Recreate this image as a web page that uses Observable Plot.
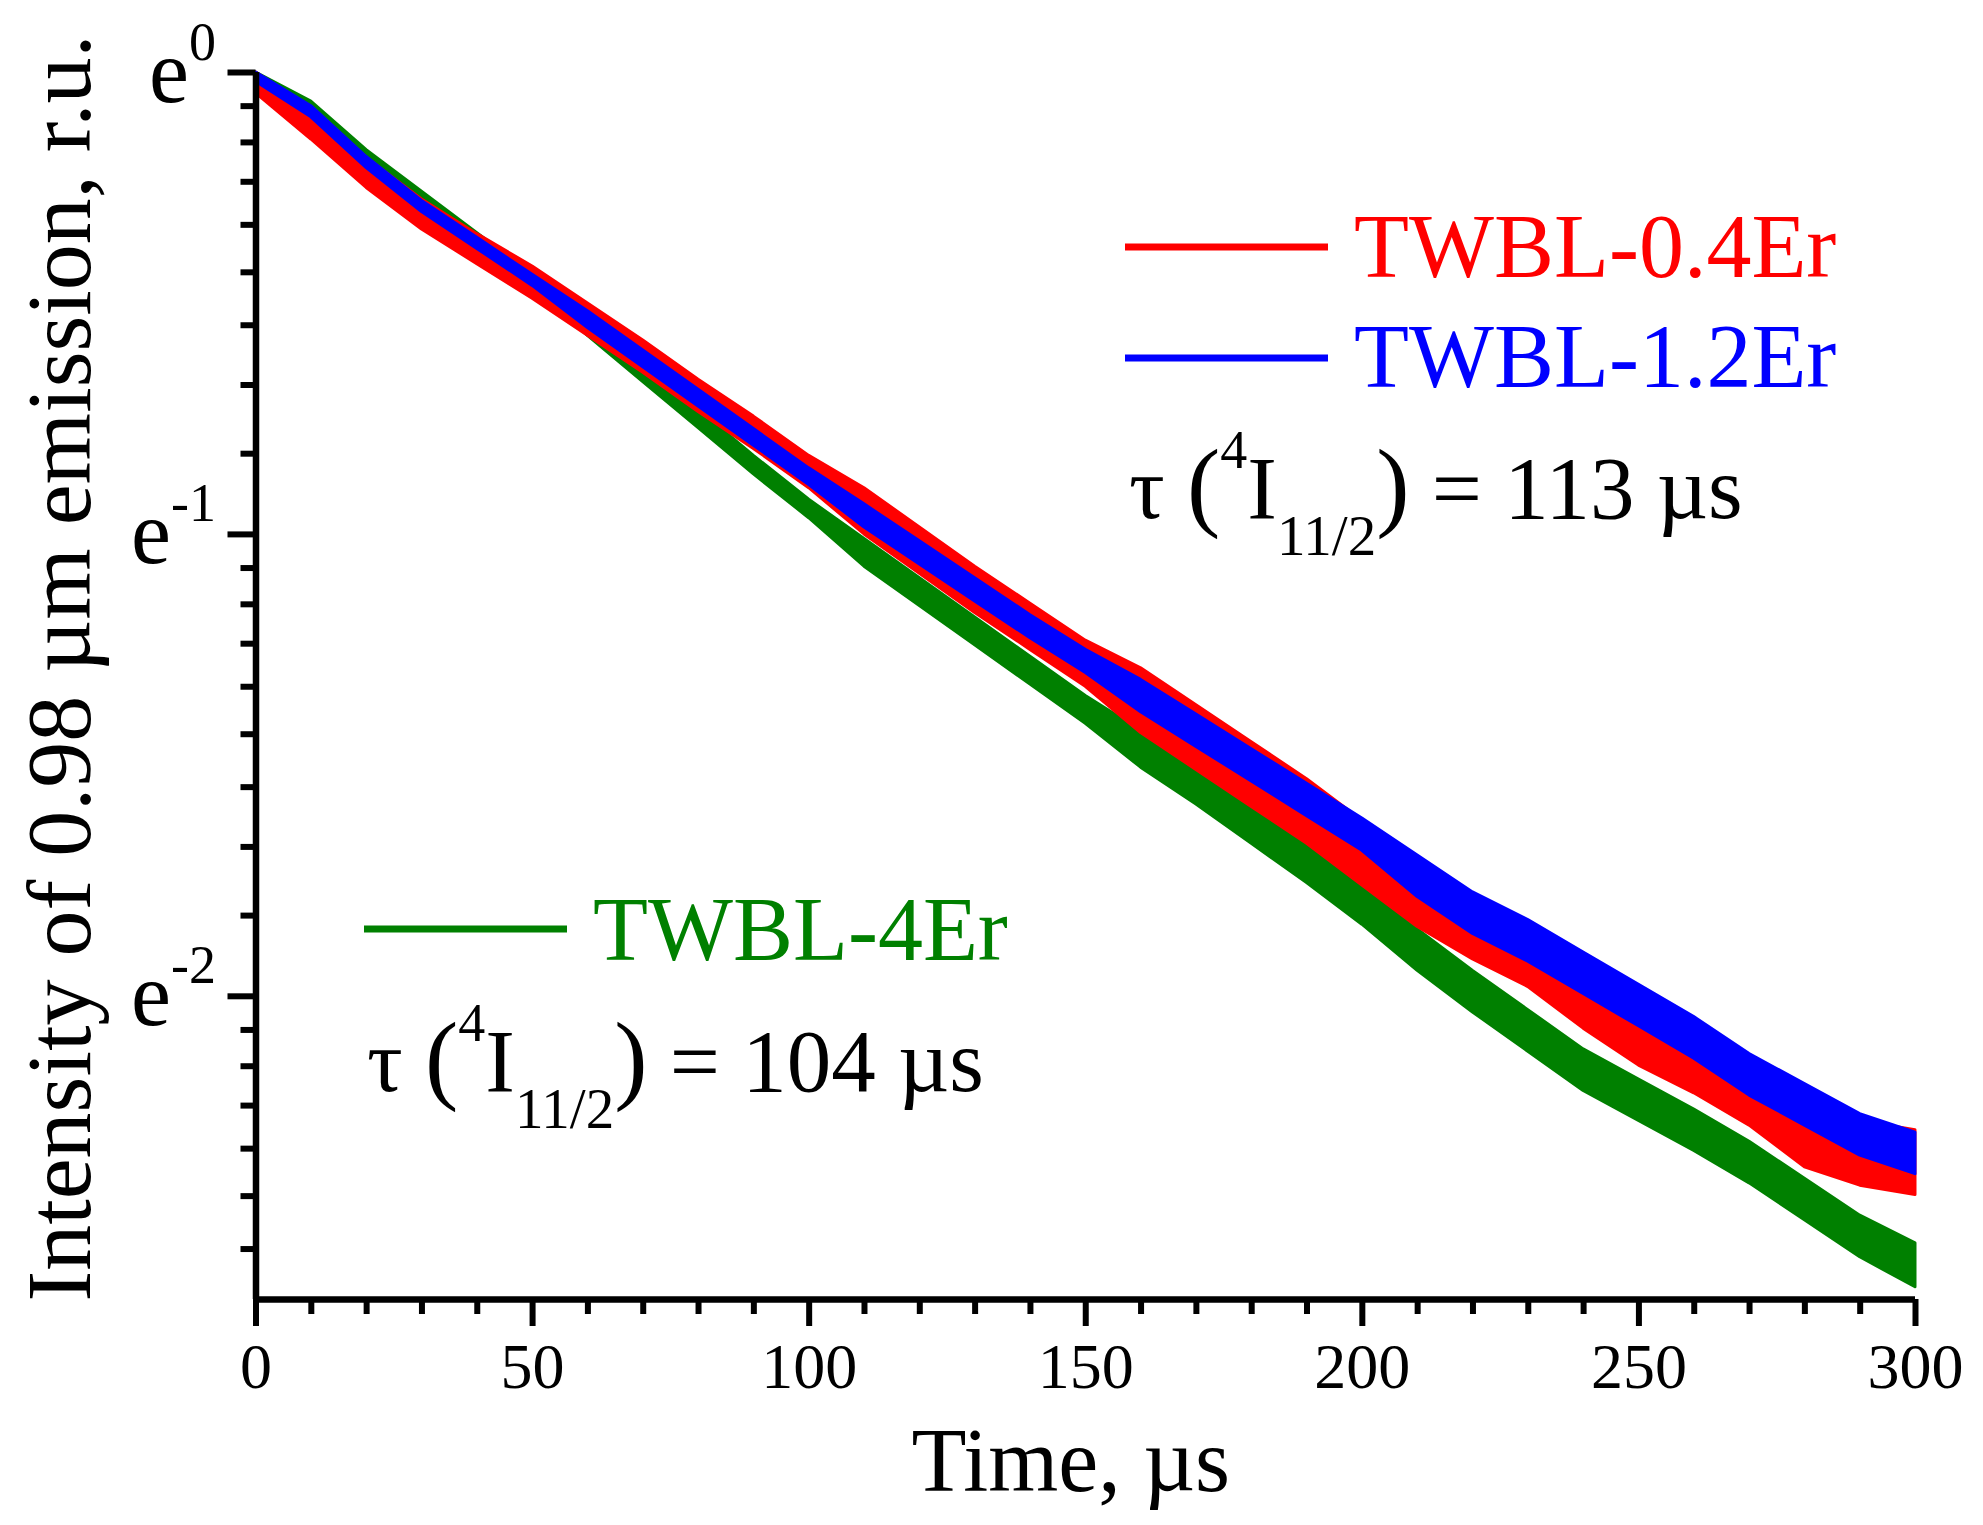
<!DOCTYPE html>
<html>
<head>
<meta charset="utf-8">
<script src="https://cdn.jsdelivr.net/npm/d3@7"></script>
<script src="https://cdn.jsdelivr.net/npm/@observablehq/plot@0.6"></script>
<style>
  html, body { margin: 0; padding: 0; background: #fff; }
  #chart svg { display: block; }
</style>
</head>
<body>
<div id="chart"></div>
<script>
// ---- Data (ln of normalised intensity) ----
const time = [0,10,20,30,40,50,60,70,80,90,100,110,120,130,140,150,160,170,180,190,200,210,220,230,240,250,260,270,280,290,300];

const lnBlueHi = [0,-0.073,-0.183,-0.278,-0.358,-0.438,-0.517,-0.602,-0.687,-0.772,-0.857,-0.935,-1.015,-1.095,-1.175,-1.25,-1.315,-1.39,-1.465,-1.54,-1.615,-1.695,-1.775,-1.835,-1.905,-1.975,-2.045,-2.125,-2.19,-2.255,-2.295];
const lnBlueLo = [-0.02,-0.097,-0.207,-0.302,-0.382,-0.462,-0.553,-0.638,-0.723,-0.808,-0.893,-0.985,-1.065,-1.145,-1.225,-1.3,-1.385,-1.46,-1.535,-1.61,-1.685,-1.785,-1.865,-1.925,-1.995,-2.065,-2.135,-2.215,-2.28,-2.345,-2.385];

const lnRedHi = [0,-0.08,-0.185,-0.275,-0.35,-0.42,-0.5,-0.58,-0.665,-0.745,-0.83,-0.9,-0.985,-1.07,-1.15,-1.23,-1.29,-1.37,-1.45,-1.53,-1.62,-1.71,-1.78,-1.84,-1.93,-2.01,-2.07,-2.14,-2.23,-2.27,-2.29];
const lnRedLo = [-0.045,-0.145,-0.25,-0.34,-0.415,-0.49,-0.57,-0.65,-0.735,-0.815,-0.9,-1.0,-1.085,-1.17,-1.25,-1.33,-1.43,-1.51,-1.59,-1.67,-1.76,-1.85,-1.92,-1.98,-2.07,-2.15,-2.21,-2.28,-2.37,-2.41,-2.43];

const lnGreenHi = [0,-0.063,-0.168,-0.258,-0.348,-0.438,-0.53,-0.63,-0.73,-0.83,-0.925,-1.01,-1.095,-1.18,-1.265,-1.35,-1.425,-1.505,-1.59,-1.675,-1.765,-1.855,-1.945,-2.03,-2.115,-2.18,-2.245,-2.315,-2.395,-2.475,-2.535];
const lnGreenLo = [-0.015,-0.087,-0.192,-0.282,-0.372,-0.462,-0.57,-0.67,-0.77,-0.87,-0.965,-1.07,-1.155,-1.24,-1.325,-1.41,-1.505,-1.585,-1.67,-1.755,-1.845,-1.945,-2.035,-2.12,-2.205,-2.27,-2.335,-2.405,-2.485,-2.565,-2.63];

const seriesNames  = ["TWBL-0.4Er", "TWBL-1.2Er", "TWBL-4Er"];
const seriesColors = ["#ff0000", "#0000ff", "#008000"];
const lifetimes = ["113", "104"];

const xMajorTicks = [0, 50, 100, 150, 200, 250, 300];
const xMinorTicks = [10,20,30,40,60,70,80,90,110,120,130,140,160,170,180,190,210,220,230,240,260,270,280,290];
const yMajorExp = [0, -1, -2];

// ---- derived tables ----
const toRows = (lo, hi) => time.map((t, i) => ({t, lo: Math.exp(lo[i]), hi: Math.exp(hi[i])}));
const red = toRows(lnRedLo, lnRedHi);
const blue = toRows(lnBlueLo, lnBlueHi);
const green = toRows(lnGreenLo, lnGreenHi);

// minor ticks of the Origin-style log axis: 9 linear steps between successive powers of e
const yMinorTicks = [];
for (const n of [0, -1, -2]) {
  const a = Math.exp(n - 1), b = Math.exp(n);
  for (let k = 1; k < 9; k++) {
    const v = a + k * (b - a) / 9;
    if (v > 0.0702) yMinorTicks.push(v);
  }
}

const FONT = "'Liberation Serif', 'Times New Roman', Times, serif";

function annotations(index, scales, values, dims) {
  const g = d3.create("svg:g").attr("font-family", FONT).attr("text-anchor", "start");
  const leg = [
    {name: seriesNames[0], color: seriesColors[0], x1: 1125, x2: 1328, ly: 247, tx: 1354, ty: 277},
    {name: seriesNames[1], color: seriesColors[1], x1: 1125, x2: 1328, ly: 358, tx: 1354, ty: 387},
    {name: seriesNames[2], color: seriesColors[2], x1: 364, x2: 567, ly: 929, tx: 593, ty: 960}
  ];
  for (const e of leg) {
    g.append("line").attr("x1", e.x1).attr("x2", e.x2).attr("y1", e.ly).attr("y2", e.ly)
      .attr("stroke", e.color).attr("stroke-width", 7);
    g.append("text").attr("x", e.tx).attr("y", e.ty).attr("font-size", 90).attr("fill", e.color).text(e.name);
  }
  const taus = [{x: 1129, y: 518, v: lifetimes[0]}, {x: 367, y: 1091, v: lifetimes[1]}];
  for (const t of taus) {
    const txt = g.append("text").attr("x", t.x).attr("y", t.y).attr("font-size", 89).attr("fill", "#000");
    txt.append("tspan").text("\u03c4 ");
    txt.append("tspan").attr("font-size", 100).text("(");
    txt.append("tspan").attr("dy", -50).attr("font-size", 54).text("4");
    txt.append("tspan").attr("dy", 50).text("I");
    txt.append("tspan").attr("dy", 37).attr("font-size", 57).text("11/2");
    txt.append("tspan").attr("dy", -37).attr("font-size", 100).text(")");
    txt.append("tspan").text(" = " + t.v + " \u00b5s");
  }
  return g.node();
}

const chart = Plot.plot({
  width: 1983,
  height: 1525,
  marginLeft: 255.5,
  marginRight: 68,
  marginTop: 72,
  marginBottom: 226,
  style: {fontFamily: FONT, background: "#fff", color: "#000"},
  x: {domain: [0, 300]},
  y: {type: "log", base: Math.E, domain: [0.0702, 1]},
  marks: [
    // data bands
    Plot.areaY(green, {x: "t", y1: "lo", y2: "hi", fill: seriesColors[2], stroke: seriesColors[2], strokeWidth: 3}),
    Plot.areaY(red, {x: "t", y1: "lo", y2: "hi", fill: seriesColors[0], stroke: seriesColors[0], strokeWidth: 3}),
    Plot.areaY(blue, {x: "t", y1: "lo", y2: "hi", fill: seriesColors[1], stroke: seriesColors[1], strokeWidth: 3}),
    // axes
    Plot.axisX({ticks: xMajorTicks, tickSize: 27, tickPadding: 16, fontSize: 64, strokeWidth: 6, label: null, tickFormat: d => String(d)}),
    Plot.axisX({ticks: xMinorTicks, tickSize: 15, text: null, strokeWidth: 6, label: null}),
    Plot.axisY({ticks: yMajorExp.map(n => Math.exp(n)), tickSize: 28, text: null, strokeWidth: 6, label: null}),
    Plot.axisY({ticks: yMinorTicks, tickSize: 15, text: null, strokeWidth: 6, label: null}),
    Plot.ruleX([0], {strokeWidth: 6.5}),
    Plot.ruleY([0.0702], {strokeWidth: 6.5}),
    // y tick labels e^n
    Plot.text(yMajorExp.filter(n => n === 0), {y: n => Math.exp(n), text: () => "e", frameAnchor: "left", textAnchor: "end", lineAnchor: "bottom", dx: -67, dy: 29, fontSize: 90}),
    Plot.text(yMajorExp.filter(n => n !== 0), {y: n => Math.exp(n), text: () => "e", frameAnchor: "left", textAnchor: "end", lineAnchor: "bottom", dx: -85, dy: 29, fontSize: 90}),
    Plot.text(yMajorExp, {y: n => Math.exp(n), text: n => String(n), frameAnchor: "left", textAnchor: "end", lineAnchor: "bottom", dx: -40, dy: -13, fontSize: 54}),
    // axis titles
    Plot.text(["Time, \u00b5s"], {frameAnchor: "bottom", textAnchor: "middle", lineAnchor: "bottom", dx: -15, dy: 191, fontSize: 90}),
    Plot.text(["Intensity of 0.98 \u00b5m emission, r.u."], {frameAnchor: "left", rotate: -90, textAnchor: "middle", lineAnchor: "bottom", dx: -166, dy: -18, fontSize: 92}),
    // legend & lifetime annotations
    annotations
  ]
});
document.getElementById("chart").appendChild(chart);
</script>
</body>
</html>
